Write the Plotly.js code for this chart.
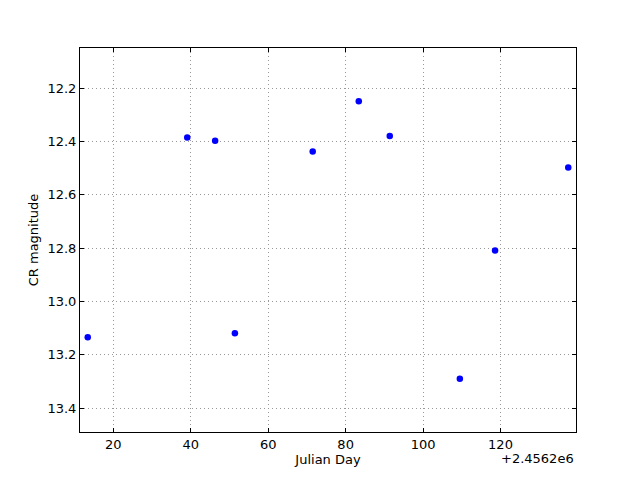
<!DOCTYPE html>
<html>
<head>
<meta charset="utf-8">
<script src="https://cdn.plot.ly/plotly-3.0.1.min.js"></script>
<style>html,body{margin:0;padding:0;background:#fff}#chart{width:640px;height:480px}</style>
</head>
<body>
<div id="chart"></div>
<script>
// Julian Day offsets from 2456200
const julianDayOffset = [13.4, 39.1, 46.3, 51.4, 71.5, 83.4, 91.4, 109.5, 118.6, 137.5];
const crMagnitude = [13.135, 12.386, 12.398, 13.12, 12.438, 12.25, 12.38, 13.29, 12.809, 12.498];
const xTicks = [20, 40, 60, 80, 100, 120];
const yTicks = [12.2, 12.4, 12.6, 12.8, 13.0, 13.2, 13.4];
const offsetLabel = "+2.4562e6";

const font = {family: "DejaVu Sans", size: 13, color: "#000"};
const trace = {
  x: julianDayOffset, y: crMagnitude, type: "scatter", mode: "markers",
  marker: {color: "#0000ff", size: 6.5, line: {width: 0}}
};
const axisCommon = {
  showline: true, linecolor: "#000", linewidth: 1, mirror: "allticks",
  ticks: "inside", ticklen: 4, tickcolor: "#000", tickwidth: 1,
  showgrid: true, gridcolor: "#999", griddash: "1px,3px", gridwidth: 1,
  zeroline: false, tickfont: font
};
const layout = {
  width: 640, height: 480,
  margin: {l: 80, r: 64, t: 48, b: 48},
  paper_bgcolor: "#fff", plot_bgcolor: "#fff",
  showlegend: false, font: font,
  xaxis: Object.assign({}, axisCommon, {
    range: [11.4, 139.5], tickvals: xTicks, ticktext: xTicks.map(String),
    title: {text: "Julian Day", font: font, standoff: 4}
  }),
  yaxis: Object.assign({}, axisCommon, {
    range: [13.49, 12.05], tickvals: yTicks, ticktext: yTicks.map(v => v.toFixed(1)),
    title: {text: "CR magnitude", font: font, standoff: 5}
  }),
  annotations: [{
    text: offsetLabel, xref: "paper", yref: "paper", x: 1, y: 0,
    xanchor: "right", yanchor: "top", yshift: -17, showarrow: false, font: font
  }]
};
Plotly.newPlot("chart", [trace], layout, {staticPlot: true});
</script>
</body>
</html>
